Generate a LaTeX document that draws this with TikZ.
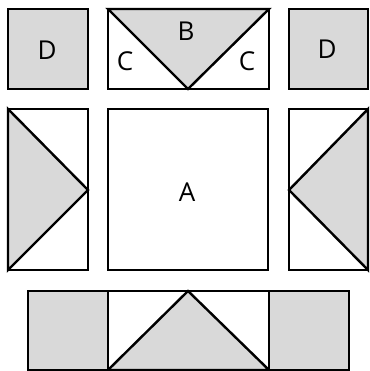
\documentclass[tikz,border=0pt]{standalone}
\usepackage{fontspec}
\setmainfont{Open Sans}
\definecolor{pgray}{HTML}{D9D9D9}
\tikzset{
  piece/.style={draw=black, line width=2.4pt, line join=miter},
  shaded/.style={piece, fill=pgray},
  lbl/.style={font=\fontsize{26}{26}\selectfont, inner sep=0pt, text=black}
}
\begin{document}
\begin{tikzpicture}[x=1pt,y=-1pt]
\useasboundingbox (0,0) rectangle (369,371);
% top row
\draw[shaded] (8,9) rectangle (88,89);
\draw[piece, fill=white] (108,9) rectangle (269,89);
\draw[shaded] (108,9) -- (188,89) -- (269,9) -- cycle;
\draw[piece] (108,9) rectangle (269,89);
\draw[shaded] (289,9) rectangle (368,89);
% middle row
\draw[piece, fill=white] (8,109) rectangle (88,270);
\draw[shaded] (8,109) -- (88,190) -- (8,270) -- cycle;
\draw[piece] (8,109) rectangle (88,270);
\draw[piece, fill=white] (108,109) rectangle (268,270);
\draw[piece, fill=white] (289,109) rectangle (368,270);
\draw[shaded] (368,109) -- (289,190) -- (368,270) -- cycle;
\draw[piece] (289,109) rectangle (368,270);
% bottom row
\draw[shaded] (28,291) rectangle (108,370);
\draw[piece, fill=white] (108,291) rectangle (269,370);
\draw[shaded] (108,370) -- (188,291) -- (269,370) -- cycle;
\draw[piece] (108,291) rectangle (269,370);
\draw[shaded] (269,291) rectangle (349,370);
% labels
\node[lbl] (d1) at (47,50) {D};
\node[lbl] (b) at (186,31) {B};
\node[lbl] (c1) at (125,61) {C};
\node[lbl] (c2) at (247,61) {C};
\node[lbl] (d2) at (327,49) {D};
\node[lbl] (a) at (187,192) {A};
\end{tikzpicture}
\end{document}
